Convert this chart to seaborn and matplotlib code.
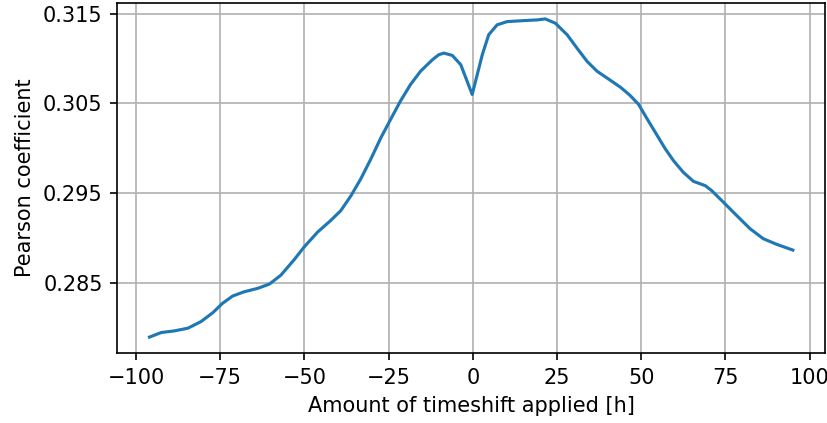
import matplotlib
matplotlib.use("Agg")
import matplotlib.pyplot as plt
import numpy as np
import pandas as pd
import seaborn as sns

# values
shift_h = [-96, -92.5, -88.6, -84.6, -80.7, -77.2, -74.3, -71.3, -67.9, -63.9,
           -60.4, -57.0, -53.0, -50.1, -46.1, -42.2, -39.2, -36.2, -33.3, -30.3,
           -27.3, -24.4, -21.5, -18.5, -15.5, -12.0, -10.1, -8.6, -6.1, -3.6,
           -1.7, -0.2, 1.3, 2.8, 4.7, 7.2, 10.2, 15.1, 19.1, 21.5,
           24.5, 28.0, 30.9, 33.9, 36.9, 39.8, 43.8, 46.6, 49.2, 51.7,
           54.6, 57.1, 59.6, 62.5, 65.5, 69.0, 70.9, 74.4, 78.3, 82.3,
           86.2, 90.2, 95.0]
pearson = [0.27895, 0.27946, 0.27964, 0.27994, 0.28068, 0.28167, 0.28272, 0.28353, 0.28400, 0.28438,
           0.28486, 0.28585, 0.28760, 0.28899, 0.29065, 0.29195, 0.29305, 0.29470, 0.29657, 0.29879,
           0.30118, 0.30323, 0.30526, 0.30711, 0.30860, 0.30987, 0.31043, 0.31061, 0.31035, 0.30932,
           0.30747, 0.30600, 0.30821, 0.31043, 0.31265, 0.31376, 0.31412, 0.31423, 0.31431, 0.31442,
           0.31394, 0.31265, 0.31117, 0.30969, 0.30858, 0.30784, 0.30681, 0.30592, 0.30489, 0.30330,
           0.30150, 0.29995, 0.29860, 0.29731, 0.29631, 0.29583, 0.29528, 0.29398, 0.29251, 0.29103,
           0.28992, 0.28929, 0.28865]

df = pd.DataFrame({"shift": shift_h, "r": pearson})

dpi = 150
fig, ax = plt.subplots(figsize=(828 / dpi, 423 / dpi), dpi=dpi)
sns.lineplot(data=df, x="shift", y="r", ax=ax, color="#1f77b4", linewidth=1.5)
ax.set_yticks([0.285, 0.295, 0.305, 0.315])
ax.set_xlabel("Amount of timeshift applied [h]")
ax.set_ylabel("Pearson coefficient")
ax.grid(True, color="#b0b0b0", linewidth=0.8)
fig.subplots_adjust(left=0.1417, right=0.9964, top=0.9929, bottom=0.1655)
fig.savefig("out.png", dpi=dpi)
